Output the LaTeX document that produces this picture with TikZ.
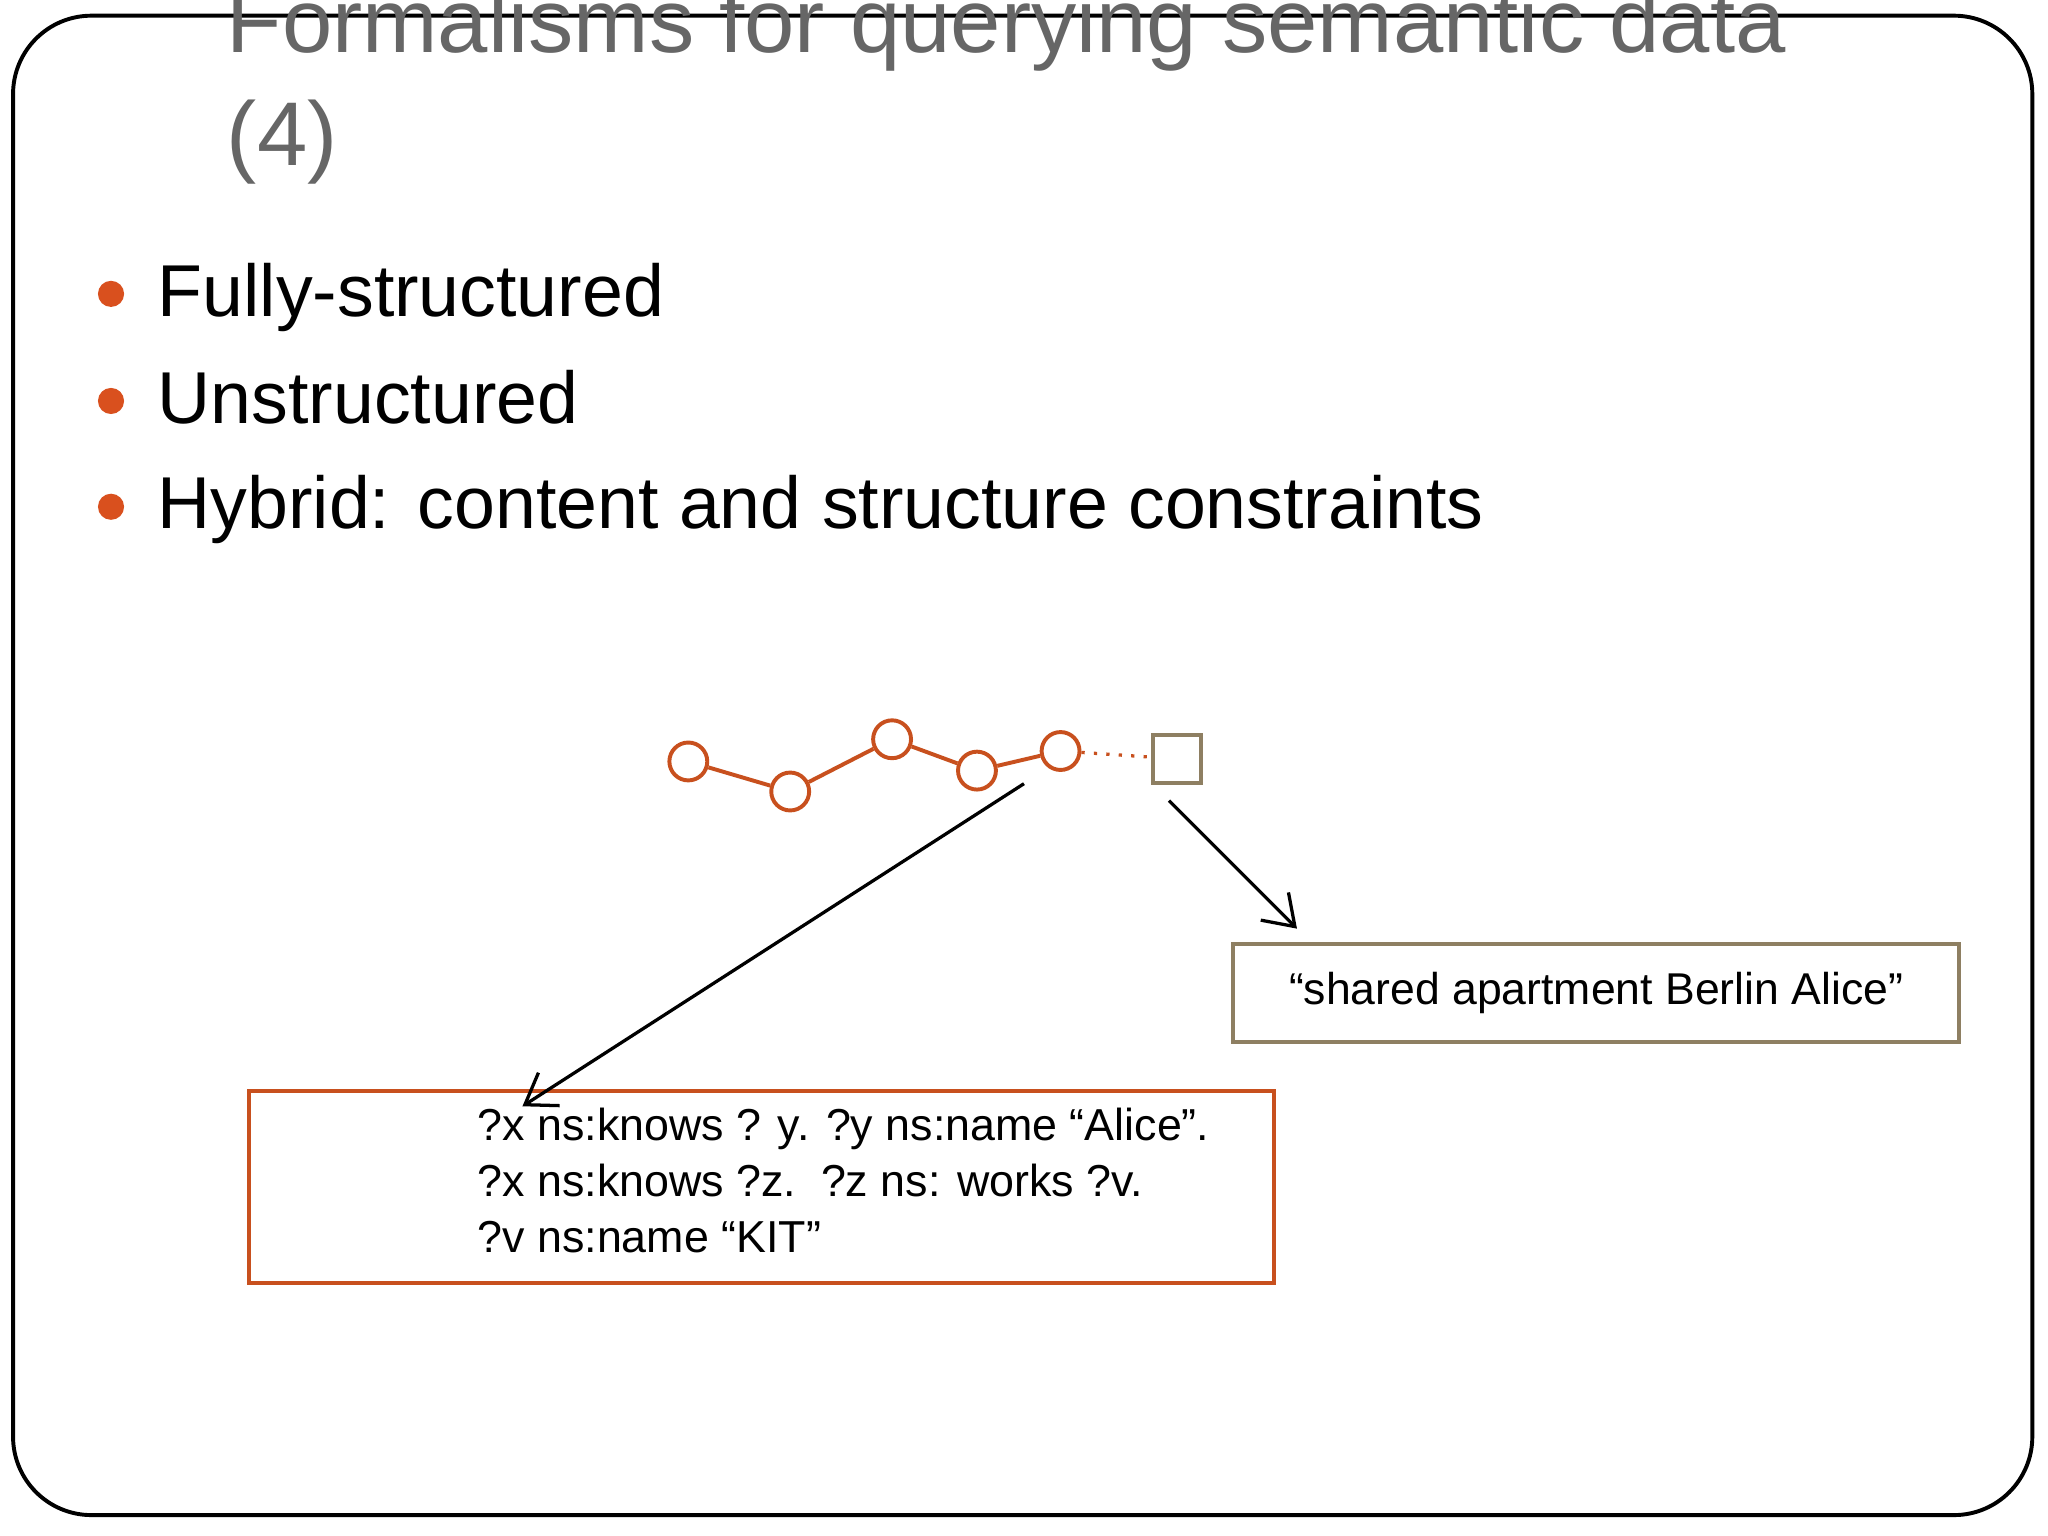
\documentclass[tikz,border=0pt]{standalone}
\usepackage{fontspec}
\setmainfont{Liberation Sans}
\usetikzlibrary{arrows.meta}
\definecolor{ored}{HTML}{C8501E}
\definecolor{bul}{HTML}{D9501E}
\definecolor{tan}{HTML}{8E7F62}
\definecolor{ttl}{HTML}{666666}
\tikzset{
 vtx/.style={draw=ored,line width=0.3mm,circle,minimum size=2.9mm,inner sep=0pt,fill=white},
 blt/.style={circle,fill=bul,minimum size=2mm,inner sep=0pt},
 btxt/.style={anchor=base west,font=\fontsize{16.0}{20}\selectfont},
 arr/.style={-{Straight Barb[length=2.2mm,width=3mm]},line width=0.25mm}
}
\begin{document}
\begin{tikzpicture}[x=0.01cm,y=-0.01cm]
\useasboundingbox (0,0) rectangle (1568,1176);
\fill[white] (0,0) rectangle (1568,1176);
\draw[line width=0.3mm,rounded corners=6mm] (10,12) rectangle (1556,1160);
\node[anchor=base west,text=ttl,font=\fontsize{19.7}{22}\selectfont,inner sep=0] (t1) at (173,40) {Formalisms for querying semantic data};
\node[anchor=base west,text=ttl,font=\fontsize{19.7}{22}\selectfont,inner sep=0] (t2) at (173,127) {(4)};
\node[blt] (b1) at (85,225) {};
\node[blt] (b2) at (85,307) {};
\node[blt] (b3) at (85,388) {};
\node[btxt,inner sep=0] (l1) at (120,242) {Fully-structured};
\node[btxt,inner sep=0] (l2) at (120,324) {Unstructured};
\node[btxt,inner sep=0] (l3) at (120,405) {Hybrid: content and structure constraints};
\node[vtx] (v1) at (527,583) {};
\node[vtx] (v2) at (605,606) {};
\node[vtx] (v3) at (683,566) {};
\node[vtx] (v4) at (748,590) {};
\node[vtx] (v5) at (812,575) {};
\node[draw=tan,line width=0.3mm,minimum size=3.7mm,inner sep=0] (sq) at (901,581) {};
\draw[ored,line width=0.3mm] (v1)--(v2)--(v3)--(v4)--(v5);
\draw[ored,dotted,line width=0.25mm] (v5)--(sq);
\node[draw=tan,line width=0.3mm,minimum width=55.6mm,minimum height=7.5mm,font=\fontsize{9.7}{12}\selectfont] (bx1) at (1222,760) {“shared apartment Berlin Alice”};
\node[draw=ored,line width=0.3mm,minimum width=78.4mm,minimum height=14.7mm] (bx2) at (583,908.5) {};
\node[anchor=north west,align=left,inner sep=0,font=\fontsize{9.75}{12.1}\selectfont] (q) at (365,848) {?x ns:knows ? y. ?y ns:name “Alice”.\\?x ns:knows ?z.\ \ ?z ns: works ?v.\\?v ns:name “KIT”};
\coordinate (a1s) at (784,600);
\coordinate (a1e) at (400,847);
\coordinate (a2s) at (895,613);
\coordinate (a2e) at (993,711);
\draw[arr] (a1s)--(a1e);
\draw[arr] (a2s)--(a2e);
\end{tikzpicture}
\end{document}
